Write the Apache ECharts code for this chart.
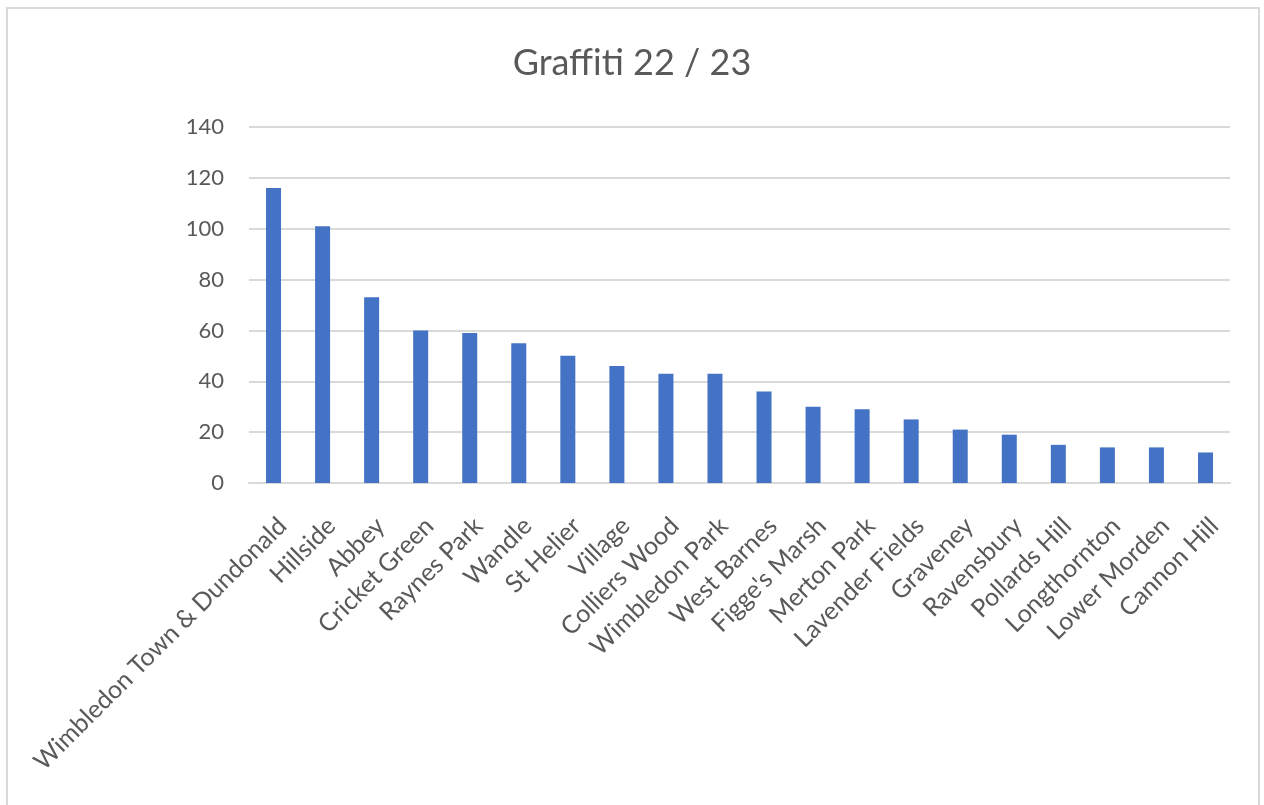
<!DOCTYPE html>
<html>
<head>
<meta charset="utf-8">
<title>Graffiti 22 / 23</title>
<script src="https://cdn.jsdelivr.net/npm/echarts@6/dist/echarts.min.js"></script>
<style>
  html, body { margin: 0; padding: 0; background: #ffffff; }
  #chart { width: 1264px; height: 805px; }
</style>
</head>
<body>
<div id="chart"></div>
<script>
// Graffiti reports by ward, 2022/23
const wards = [
  'Wimbledon Town & Dundonald', 'Hillside', 'Abbey', 'Cricket Green', 'Raynes Park',
  'Wandle', 'St Helier', 'Village', 'Colliers Wood', 'Wimbledon Park',
  'West Barnes', "Figge's Marsh", 'Merton Park', 'Lavender Fields', 'Graveney',
  'Ravensbury', 'Pollards Hill', 'Longthornton', 'Lower Morden', 'Cannon Hill'
];
const graffitiCounts = [116, 101, 73, 60, 59, 55, 50, 46, 43, 43, 36, 30, 29, 25, 21, 19, 15, 14, 14, 12];
const yTicks = [0, 20, 40, 60, 80, 100, 120, 140];

const FONT = 'Lato, "Open Sans", sans-serif';
const TEXT = '#595959';
const GRID = '#d9d9d9';

const chart = echarts.init(document.getElementById('chart'), null, { renderer: 'canvas' });
chart.setOption({
  animation: false,
  backgroundColor: '#ffffff',
  title: {
    // zero-width non-joiner keeps "ff" and "i" as separate glyphs
    text: 'Graff\u200Citi 22 / 23',
    left: 'center',
    top: 40,
    textStyle: { fontFamily: FONT, fontSize: 36, fontWeight: 'normal', color: TEXT }
  },
  graphic: [{
    type: 'rect',
    silent: true,
    shape: { x: 7, y: 8, width: 1252, height: 830 },
    style: { fill: 'none', stroke: GRID, lineWidth: 2 }
  }],
  grid: { left: 249, right: 34, top: 127, bottom: 322, containLabel: false },
  xAxis: {
    type: 'category',
    data: wards,
    axisLine: { show: true, lineStyle: { color: GRID, width: 2 } },
    axisTick: { show: false },
    axisLabel: {
      rotate: 45,
      interval: 0,
      margin: 30,
      verticalAlign: 'top',
      color: TEXT,
      fontFamily: FONT,
      fontSize: 25
    }
  },
  yAxis: {
    type: 'value',
    min: yTicks[0],
    max: yTicks[yTicks.length - 1],
    interval: yTicks[1] - yTicks[0],
    axisLine: { show: false },
    axisTick: { show: false },
    splitLine: { lineStyle: { color: GRID, width: 2 } },
    axisLabel: { margin: 25, color: TEXT, fontFamily: FONT, fontSize: 22 }
  },
  series: [{
    type: 'bar',
    data: graffitiCounts,
    barWidth: 15,
    itemStyle: { color: '#4472c4' }
  }]
});
</script>
</body>
</html>
